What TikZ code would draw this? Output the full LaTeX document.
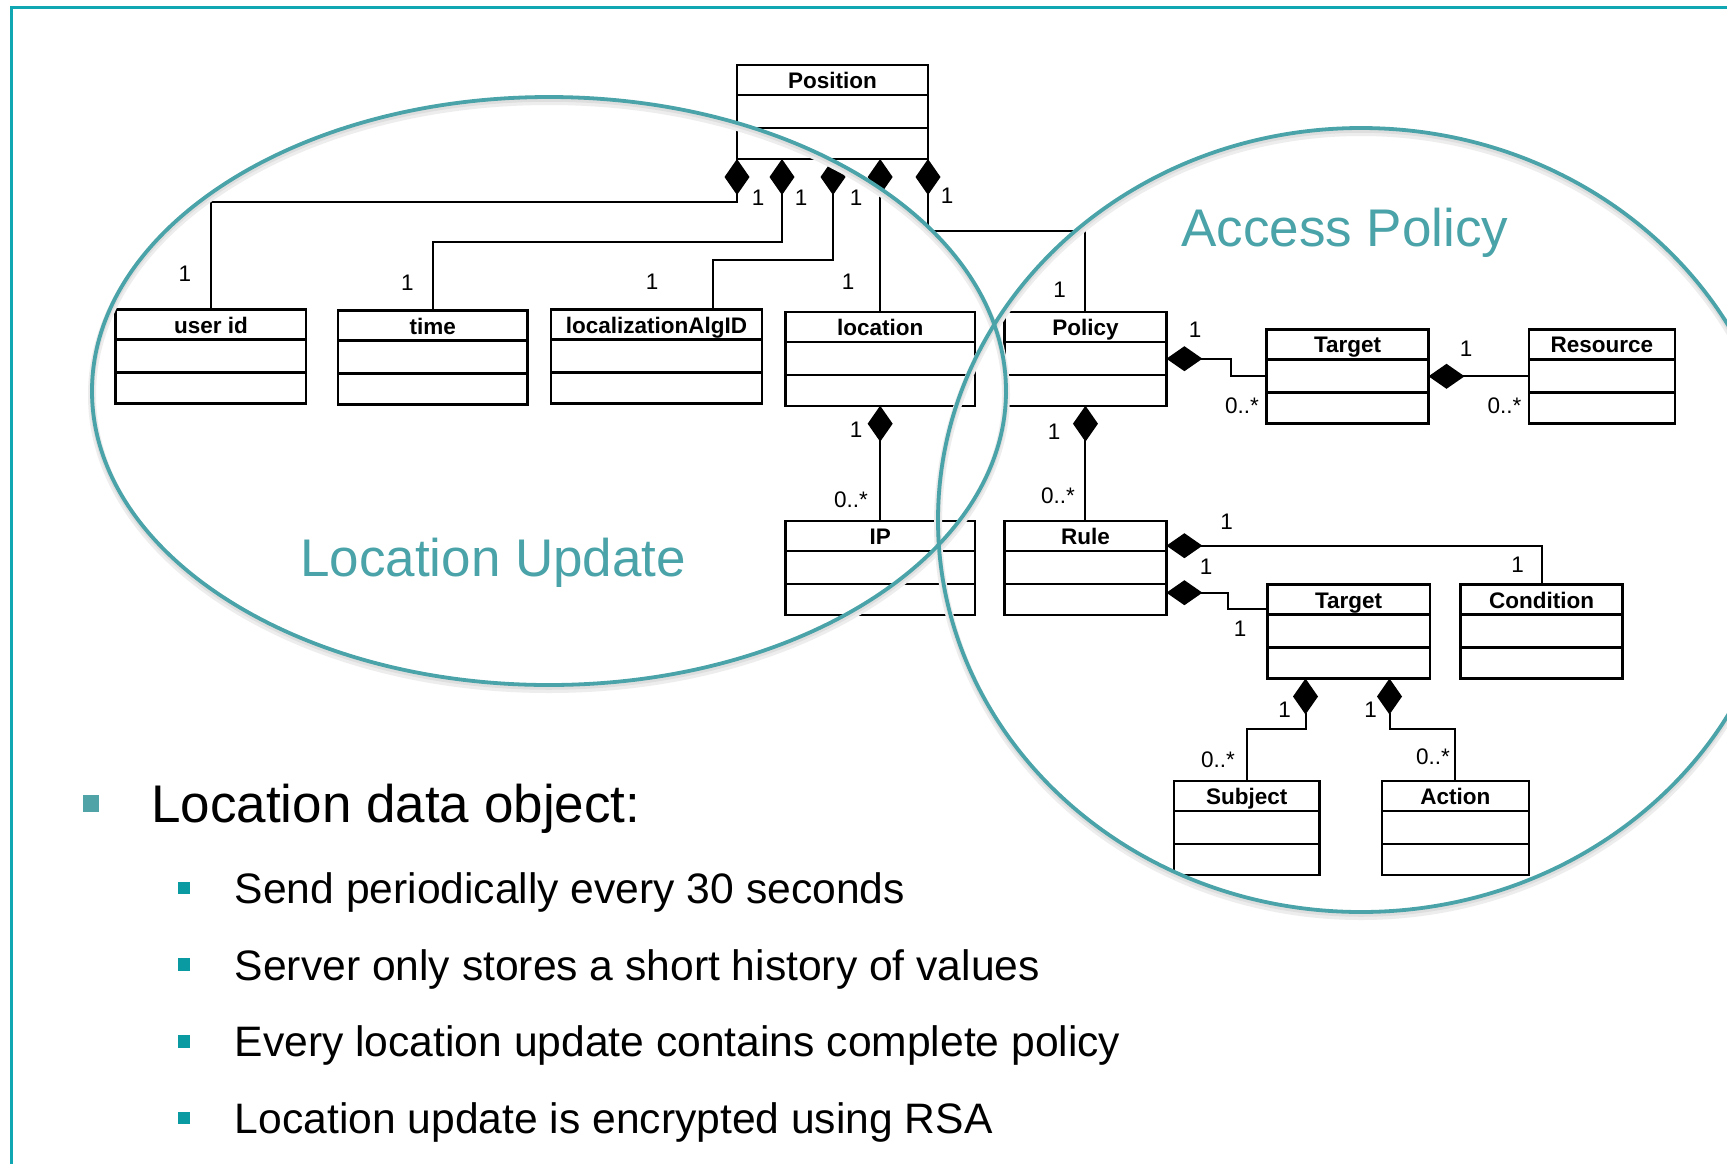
\documentclass[tikz,border=0pt]{standalone}
\usepackage{fontspec}
\setmainfont{Liberation Sans}
\usetikzlibrary{arrows.meta,calc}
\definecolor{ell}{RGB}{74,163,168}
\definecolor{frm}{RGB}{16,166,178}
\definecolor{bul}{RGB}{10,154,162}
\definecolor{bulmain}{RGB}{80,164,168}
\tikzset{
  cls/.style={draw, line width=2.4pt, fill=white, inner sep=0pt, outer sep=0pt, minimum height=94pt},
  clsln/.style={line width=2.4pt},
  ttl/.style={font=\fontsize{22.5}{26}\selectfont\bfseries, inner sep=0pt},
  comp/.style={draw, line width=2pt, line join=miter, {Diamond[length=36pt,width=25pt]}-},
  lbl/.style={font=\fontsize{22.5}{24}\selectfont, inner sep=0pt},
  ellline/.style={draw=ell, line width=3.8pt},
  ellshadowa/.style={draw=black!7, line width=8pt},
  ellshadowb/.style={draw=black!13, line width=4.5pt},
  bigtxt/.style={font=\fontsize{53}{60}\selectfont, text=ell, inner sep=0pt, anchor=base west},
  maintxt/.style={font=\fontsize{53}{60}\selectfont, inner sep=0pt, anchor=base west},
  subtxt/.style={font=\fontsize{42.6}{50}\selectfont, inner sep=0pt, anchor=base west},
  subbul/.style={fill=bul, inner sep=0pt, minimum size=12.7pt},
}
\newcommand{\umlcls}[5]{%
  \node[cls, minimum width={(#4-#2)*1pt}] (#1) at ({(#2+#4)/2},{#3+47}) {};
  \node[ttl, anchor=base] (#1-t) at ($(#1.north)+(0,23.5)$) {#5};
  \draw[clsln] ($(#1.north west)+(0,30)$) -- ($(#1.north east)+(0,30)$);
  \draw[clsln] ($(#1.north west)+(0,63)$) -- ($(#1.north east)+(0,63)$);
}
\begin{document}
\begin{tikzpicture}[x=1pt,y=-1pt]
\useasboundingbox (0,0) rectangle (1727,1163);
\fill[white] (0,0) rectangle (1727,1163);
% frame
\draw[frm, line width=3pt] (11,1175) -- (11,7) -- (1740,7);

% classes
\umlcls{pos}{737}{65}{928}{Position}
\umlcls{userid}{115.6}{309.5}{306.2}{user id}
\umlcls{time}{338}{310.6}{527.6}{time}
\umlcls{alg}{550.7}{309.5}{762.2}{localizationAlgID}
\umlcls{loc}{785.3}{311.7}{975}{location}
\umlcls{policy}{1004.5}{311.7}{1166.4}{Policy}
\umlcls{tgta}{1266.6}{329.3}{1428.5}{Target}
\umlcls{res}{1528.7}{329.3}{1675.2}{Resource}
\umlcls{ip}{785.3}{521}{975}{IP}
\umlcls{rule}{1004.5}{521}{1166.4}{Rule}
\umlcls{tgtb}{1267.5}{584.5}{1429.8}{Target}
\umlcls{cond}{1460.5}{584.5}{1622.5}{Condition}
\umlcls{subj}{1174}{780.7}{1319.5}{Subject}
\umlcls{act}{1382}{780.7}{1528.7}{Action}

% connectors
\draw[comp] (pos.south west) -- ++(0,42.5) -| (userid.north);
\draw[comp] ($(pos.south west)+(45,0)$) -- ++(0,83) -| (time.north);
\draw[comp] ($(pos.south west)+(96,0)$) -- ++(0,101) -| ($(alg.north west)+(162,0)$);
\draw[comp] (pos.south -| loc.north) -- (loc.north);
\draw[comp] (pos.south east) -- ++(0,72) -| (policy.north);
\draw[comp] (policy.east) -- ++(64.6,0) |- (tgta.west);
\draw[comp] (tgta.east) -- (res.west);
\draw[comp] (loc.south) -- (ip.north);
\draw[comp] (policy.south) -- (rule.north);
\draw[comp] ($(rule.north east)+(0,24.7)$) -| (cond.north);
\draw[comp] ($(rule.north east)+(0,71.7)$) -- ++(61.6,0) |- ($(tgtb.north west)+(0,24.5)$);
\draw[comp] ($(tgtb.south west)+(38,0)$) -- ++(0,50) -| (subj.north);
\draw[comp] ($(tgtb.south west)+(122,0)$) -- ++(0,50) -| (act.north);

% multiplicities
\node[lbl] (m1) at (758,198) {1};
\node[lbl] (m2) at (801,198) {1};
\node[lbl] (m3) at (856,198) {1};
\node[lbl] (m5) at (947,196) {1};
\node[lbl] (m6) at (185,274) {1};
\node[lbl] (m7) at (407.5,283) {1};
\node[lbl] (m8) at (652,282) {1};
\node[lbl] (m9) at (848,282) {1};
\node[lbl] (m10) at (1059.5,289.7) {1};
\node[lbl] (m11) at (1195,330) {1};
\node[lbl] (m12) at (1242,406) {0..*};
\node[lbl] (m13) at (1466,349) {1};
\node[lbl] (m14) at (1504.5,406) {0..*};
\node[lbl] (m15) at (856,430) {1};
\node[lbl] (m16) at (851,500) {0..*};
\node[lbl] (m17) at (1054,431.7) {1};
\node[lbl] (m18) at (1058,495.6) {0..*};
\node[lbl] (m19) at (1226.7,521.7) {1};
\node[lbl] (m20) at (1517.7,565) {1};
\node[lbl] (m21) at (1206,566.7) {1};
\node[lbl] (m22) at (1240,628.3) {1};
\node[lbl] (m23) at (1284.7,710) {1};
\node[lbl] (m24) at (1218,760) {0..*};
\node[lbl] (m25) at (1370.5,710) {1};
\node[lbl] (m26) at (1433,757) {0..*};

% ellipses
\draw[ellshadowa] (549,395) ellipse [x radius=457pt, y radius=294pt];
\draw[ellshadowa] (1361,524) ellipse [x radius=423pt, y radius=392pt];
\draw[ellshadowb] (549,393.5) ellipse [x radius=457pt, y radius=294pt];
\draw[ellshadowb] (1361,522.5) ellipse [x radius=423pt, y radius=392pt];
\draw[ellline] (549,391) ellipse [x radius=457pt, y radius=294pt];
\draw[ellline] (1361,520) ellipse [x radius=423pt, y radius=392pt];
\node[bigtxt] (lu) at (300,576.7) {Location Update};
\node[bigtxt] (ap) at (1181,246.7) {Access Policy};

% bullets
\node[fill=bulmain, inner sep=0pt, minimum size=16.5pt] (b0) at (91,803.5) {};
\node[maintxt] (t0) at (151,822.5) {Location data object:};
\node[subbul] (b1) at (184,888) {};
\node[subbul] (b2) at (184,964.7) {};
\node[subbul] (b3) at (184,1041.4) {};
\node[subbul] (b4) at (184,1118) {};
\node[subtxt] (t1) at (234.6,903) {Send periodically every 30 seconds};
\node[subtxt] (t2) at (234.6,980) {Server only stores a short history of values};
\node[subtxt] (t3) at (234.6,1056.6) {Every location update contains complete policy};
\node[subtxt] (t4) at (234.6,1133) {Location update is encrypted using RSA};
\end{tikzpicture}
\end{document}
